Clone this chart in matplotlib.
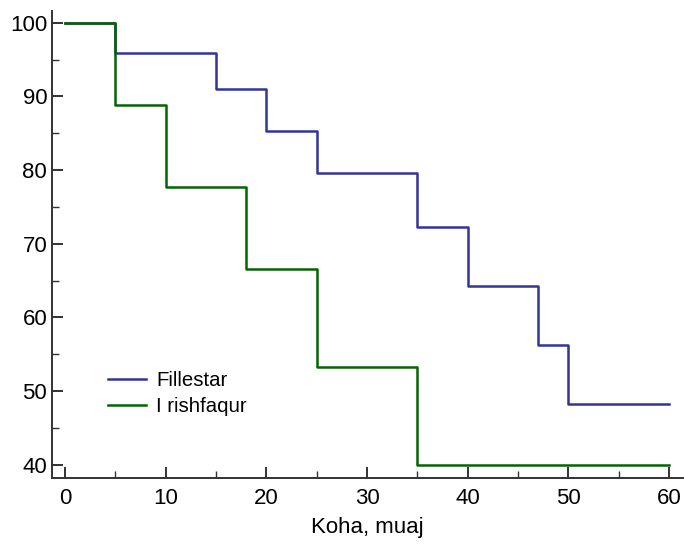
import matplotlib
matplotlib.use("Agg")
import matplotlib.pyplot as plt
from matplotlib.ticker import MultipleLocator

# data
blue_t = [0, 5, 15, 20, 25, 35, 40, 47, 50, 60]
blue_s = [100, 95.9, 91.0, 85.3, 79.6, 72.3, 64.3, 56.2, 48.2, 48.2]
green_t = [0, 5, 10, 18, 25, 35, 60]
green_s = [100, 88.9, 77.7, 66.6, 53.3, 40.0, 40.0]
labels = ["Fillestar", "I rishfaqur"]

plt.rcParams['font.family'] = ['Liberation Sans', 'DejaVu Sans']
plt.rcParams['font.size'] = 16

fig = plt.figure(figsize=(6.84, 5.48), dpi=100)
ax = fig.add_axes([52 / 684, 1 - 478 / 548, 631 / 684, 467 / 548])

ax.step(blue_t, blue_s, where='post', color='#333399', lw=1.8, label=labels[0])
ax.step(green_t, green_s, where='post', color='#006600', lw=1.8, label=labels[1])

ax.set_xlim(-1.3, 61.4)
ax.set_ylim(38.2, 101.6)
ax.xaxis.set_major_locator(MultipleLocator(10))
ax.xaxis.set_minor_locator(MultipleLocator(5))
ax.yaxis.set_major_locator(MultipleLocator(10))
ax.yaxis.set_minor_locator(MultipleLocator(5))

for s in ['top', 'right']:
    ax.spines[s].set_visible(False)
for s in ['left', 'bottom']:
    ax.spines[s].set_color('#333333')
    ax.spines[s].set_linewidth(1.4)

ax.tick_params(which='major', direction='in', length=8, width=1.4, color='#333333')
ax.tick_params(which='minor', direction='in', length=5, width=1.0, color='#333333')
ax.tick_params(axis='x', which='major', pad=7)
ax.tick_params(axis='y', which='major', pad=3.5)

ax.set_xlabel("Koha, muaj", labelpad=6)

ax.legend(loc='upper left', bbox_to_anchor=(0.0887, 0.229), frameon=False,
          fontsize=14.7, borderpad=0, borderaxespad=0, handlelength=1.86,
          handletextpad=0.5, labelspacing=0.36)

fig.savefig("out.png", dpi=100)
